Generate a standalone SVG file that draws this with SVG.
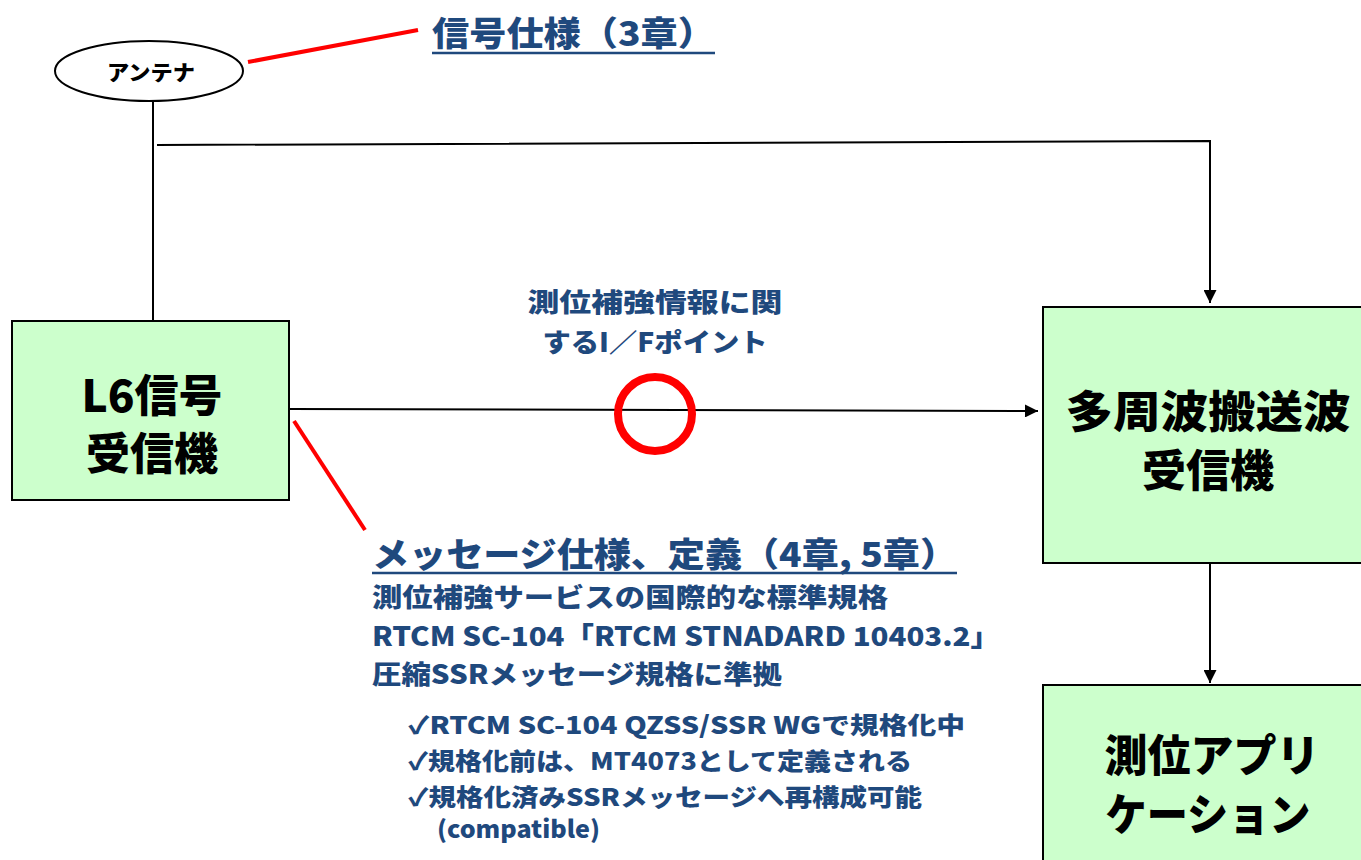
<svg xmlns="http://www.w3.org/2000/svg" width="1361" height="860" viewBox="0 0 1361 860">
<style>
.t{font-family:"Noto Sans CJK JP","Noto Sans",sans-serif;font-weight:900}
.blue{fill:#1F497D}
.blk{fill:#000}
.box{fill:#CCFFCC;stroke:#000;stroke-width:2}
.ln{stroke:#000;stroke-width:2;fill:none}
.red{stroke:#FF0000;stroke-width:4;fill:none}
.ul{stroke:#1F497D;stroke-width:2.5}
</style>
<defs>
<marker id="ah" viewBox="0 0 10 10" refX="10" refY="5" markerWidth="8" markerHeight="6.5" markerUnits="strokeWidth" orient="auto">
<path d="M0,0 L10,5 L0,10 z" fill="#000"/>
</marker>
</defs>
<rect width="1361" height="860" fill="#fff"/>
<g id="connectors">
<line class="ln" x1="153" y1="101" x2="153" y2="320"/>
<polyline class="ln" points="157,145 1210,141 1210,303" marker-end="url(#ah)"/>
<line class="ln" x1="290" y1="409" x2="1038" y2="411" marker-end="url(#ah)"/>
<line class="ln" x1="1210" y1="563" x2="1210" y2="683" marker-end="url(#ah)"/>
<line class="red" x1="248" y1="62" x2="418" y2="30"/>
<line class="red" x1="294" y1="421" x2="365" y2="530"/>
</g>
<g id="antenna">
<ellipse cx="149" cy="71" rx="94" ry="30" fill="#fff" stroke="#000" stroke-width="2"/>
<text class="t blk" x="151" y="80" font-size="21" text-anchor="middle" textLength="88" lengthAdjust="spacingAndGlyphs">アンテナ</text>
</g>
<g id="signal-spec">
<text class="t blue" x="432" y="46" font-size="34" textLength="283" lengthAdjust="spacingAndGlyphs">信号仕様（3章）</text>
<line class="ul" x1="432" y1="53" x2="715" y2="53"/>
</g>
<g id="l6-receiver">
<rect class="box" x="12" y="321" width="277" height="179"/>
<text class="t blk" x="152" y="412" font-size="44" text-anchor="middle">L6信号</text>
<text class="t blk" x="152" y="470" font-size="44" text-anchor="middle">受信機</text>
</g>
<g id="if-point">
<text class="t blue" x="655" y="312" font-size="26" text-anchor="middle" textLength="255" lengthAdjust="spacingAndGlyphs">測位補強情報に関</text>
<text class="t blue" x="655" y="352" font-size="26" text-anchor="middle" textLength="225" lengthAdjust="spacingAndGlyphs">するI／Fポイント</text>
<circle cx="655" cy="414" r="37" fill="none" stroke="#FF0000" stroke-width="8"/>
</g>
<g id="multi-receiver">
<rect class="box" x="1043" y="307" width="330" height="256"/>
<text class="t blk" x="1208" y="428" font-size="44" text-anchor="middle" textLength="285" lengthAdjust="spacingAndGlyphs">多周波搬送波</text>
<text class="t blk" x="1208" y="487" font-size="44" text-anchor="middle">受信機</text>
</g>
<g id="application">
<rect class="box" x="1043" y="685" width="330" height="200"/>
<text class="t blk" x="1212" y="772" font-size="44" text-anchor="middle" textLength="215" lengthAdjust="spacingAndGlyphs">測位アプリ</text>
<text class="t blk" x="1208" y="831" font-size="44" text-anchor="middle" textLength="205" lengthAdjust="spacingAndGlyphs">ケーション</text>
</g>
<g id="message-spec">
<text class="t blue" x="372" y="567" font-size="34" textLength="585" lengthAdjust="spacingAndGlyphs">メッセージ仕様、定義（4章, 5章）</text>
<line class="ul" x1="372" y1="573" x2="957" y2="573"/>
<text class="t blue" x="372" y="607" font-size="26" textLength="516" lengthAdjust="spacingAndGlyphs">測位補強サービスの国際的な標準規格</text>
<text class="t blue" x="372" y="646" font-size="26" textLength="628" lengthAdjust="spacingAndGlyphs">RTCM SC-104「RTCM STNADARD 10403.2」</text>
<text class="t blue" x="372" y="684" font-size="26" textLength="410" lengthAdjust="spacingAndGlyphs">圧縮SSRメッセージ規格に準拠</text>
<text class="t blue" x="408" y="734" font-size="24" textLength="557" lengthAdjust="spacingAndGlyphs">✓RTCM SC-104 QZSS/SSR WGで規格化中</text>
<text class="t blue" x="408" y="770" font-size="24" textLength="504" lengthAdjust="spacingAndGlyphs">✓規格化前は、MT4073として定義される</text>
<text class="t blue" x="408" y="806" font-size="24" textLength="514" lengthAdjust="spacingAndGlyphs">✓規格化済みSSRメッセージへ再構成可能</text>
<text class="t blue" x="437" y="838" font-size="24" textLength="163" lengthAdjust="spacingAndGlyphs">(compatible)</text>
</g>
</svg>
